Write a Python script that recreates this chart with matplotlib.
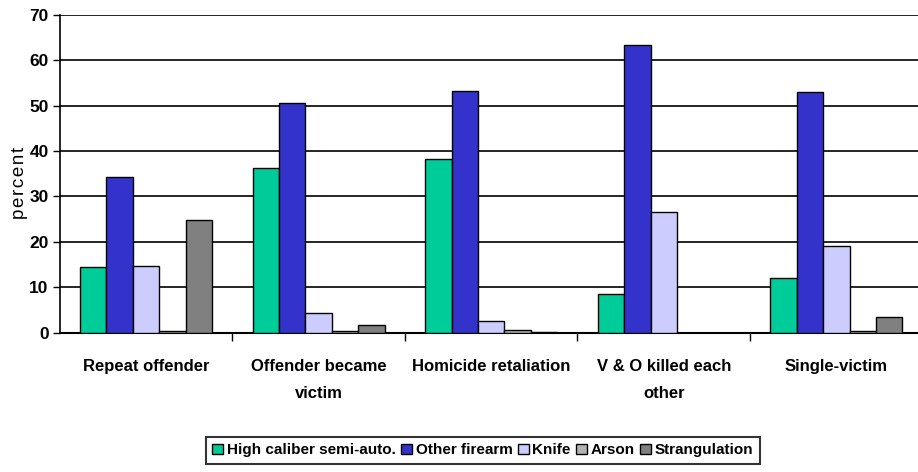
import numpy as np
import matplotlib
matplotlib.use("Agg")
import matplotlib.pyplot as plt

plt.rcParams['font.family'] = ['Liberation Sans', 'DejaVu Sans']

categories = ['Repeat offender', 'Offender became\nvictim', 'Homicide retaliation',
              'V & O killed each\nother', 'Single-victim']
series = ['High caliber semi-auto.', 'Other firearm', 'Knife', 'Arson', 'Strangulation']
high_caliber = [14.4, 36.2, 38.2, 8.5, 12.0]
other_firearm = [34.2, 50.6, 53.3, 63.4, 53.0]
knife = [14.7, 4.3, 2.6, 26.5, 19.2]
arson = [0.3, 0.3, 0.7, 0.0, 0.3]
strangulation = [24.8, 1.7, 0.2, 0.0, 3.4]
colors = ['#00CC99', '#3333CC', '#CCCCFF', '#B2B2B2', '#808080']
yticks = [0, 10, 20, 30, 40, 50, 60, 70]

values = [high_caliber, other_firearm, knife, arson, strangulation]

fig = plt.figure(figsize=(9.18, 4.72), dpi=100)
ax = fig.add_axes([0.065, 0.295, 0.94, 0.674])

x = np.arange(len(categories))
w = 0.153
for i, (name, vals) in enumerate(zip(series, values)):
    ax.bar(x + (i - 2) * w, vals, w, color=colors[i], edgecolor='black',
           linewidth=1.0, label=name, zorder=3)

ax.set_xlim(-0.5, len(categories) - 0.5)
ax.set_ylim(0, 70)
ax.set_yticks(yticks)
ax.set_yticklabels([str(t) for t in yticks], fontsize=12.5, fontweight='bold')
ax.yaxis.grid(True, color='black', linewidth=1.2, zorder=0)
ax.set_xticks(x)
ax.set_xticklabels(categories, fontsize=12, fontweight='bold', linespacing=2.0)
ax.tick_params(axis='x', length=0, pad=19)
ax.set_xticks(np.arange(0.5, len(categories) - 0.5, 1), minor=True)
ax.tick_params(axis='x', which='minor', length=6, width=1, direction='out')
ax.tick_params(axis='y', length=5, width=1, direction='out', pad=3)
for s in ['top', 'right']:
    ax.spines[s].set_visible(False)
ax.spines['left'].set_linewidth(1.2)
ax.spines['bottom'].set_linewidth(1.5)
ax.set_ylabel('\u200a'.join('percent'), fontsize=13.5, labelpad=8)
ax.yaxis.set_label_coords(-0.037, 0.47)

leg = fig.legend(loc='lower center', bbox_to_anchor=(0.526, 0.0), ncol=5,
                 frameon=True, fancybox=False, edgecolor='black',
                 handlelength=0.7, handleheight=0.7, handletextpad=0.25,
                 columnspacing=0.35, borderpad=0.45, prop={'weight': 'bold', 'size': 11})
leg.get_frame().set_linewidth(1.5)

fig.savefig('out.png', dpi=100)
